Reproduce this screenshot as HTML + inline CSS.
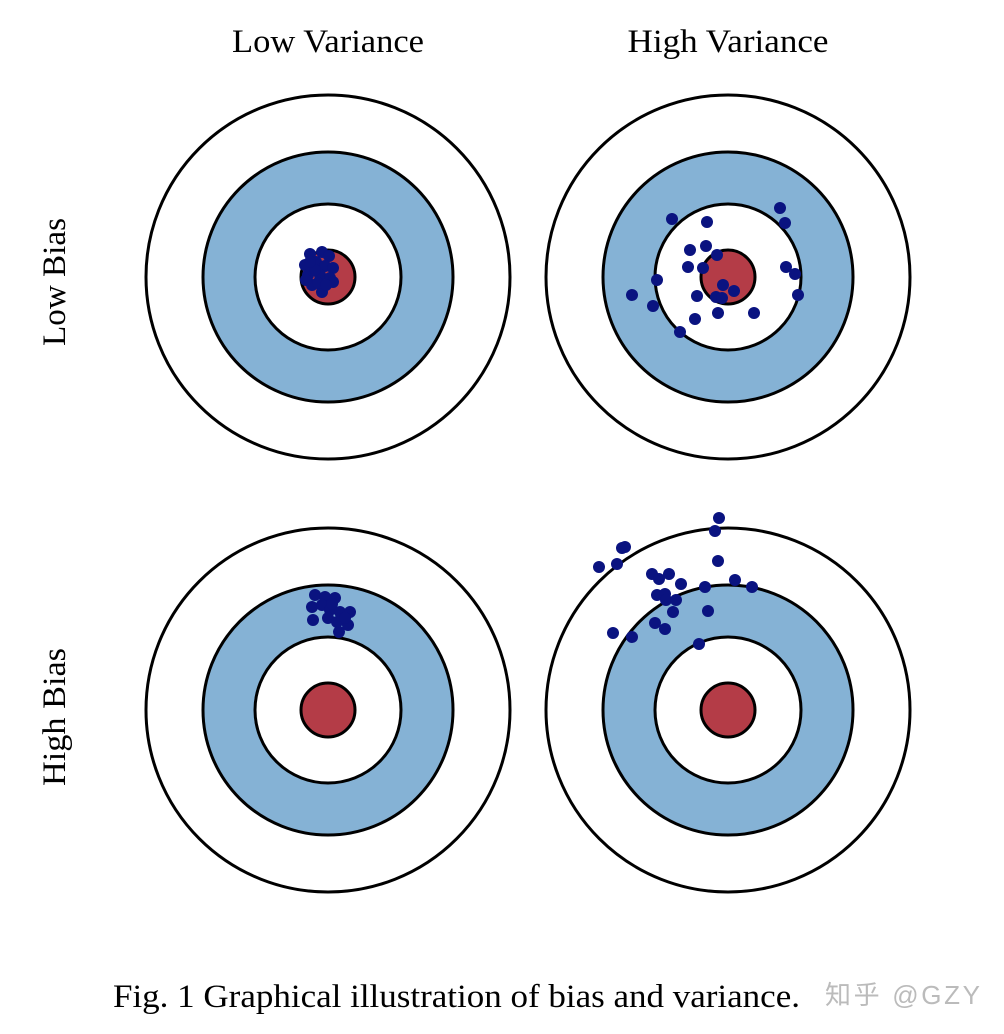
<!DOCTYPE html>
<html><head><meta charset="utf-8"><style>body{margin:0;background:#fff}svg{display:block}</style></head><body>
<svg width="1004" height="1034" viewBox="0 0 1004 1034" xmlns="http://www.w3.org/2000/svg">
<defs>
<g id="t">
<circle r="182" fill="#fff" stroke="#000" stroke-width="3"/>
<circle r="125" fill="#85b2d5" stroke="#000" stroke-width="3"/>
<circle r="73" fill="#fff" stroke="#000" stroke-width="3"/>
<circle r="27" fill="#b43c47" stroke="#000" stroke-width="3"/>
</g>
</defs>
<g font-family="Liberation Serif, serif" font-size="33" fill="#000">
<text x="328" y="52" text-anchor="middle" textLength="192" lengthAdjust="spacingAndGlyphs">Low Variance</text>
<text x="728" y="52" text-anchor="middle" textLength="201" lengthAdjust="spacingAndGlyphs">High Variance</text>
<text transform="translate(65,282) rotate(-90)" text-anchor="middle" textLength="128" lengthAdjust="spacingAndGlyphs">Low Bias</text>
<text transform="translate(65,717) rotate(-90)" text-anchor="middle" textLength="138" lengthAdjust="spacingAndGlyphs">High Bias</text>
<text x="113" y="1007" textLength="687" lengthAdjust="spacingAndGlyphs">Fig. 1 Graphical illustration of bias and variance.</text>
</g>
<text x="825" y="1004" font-family="Liberation Sans, Noto Sans CJK SC, sans-serif" font-size="26" fill="#bbb" textLength="155">知乎 @GZY</text>
<use href="#t" x="328" y="277"/>
<use href="#t" x="728" y="277"/>
<use href="#t" x="328" y="710"/>
<use href="#t" x="728" y="710"/>
<g fill="#0a1380">
<circle cx="310" cy="254" r="6"/><circle cx="322" cy="252" r="6"/><circle cx="329" cy="256" r="6"/><circle cx="305" cy="265" r="6"/><circle cx="316" cy="262" r="6"/><circle cx="325" cy="266" r="6"/><circle cx="333" cy="268" r="6"/><circle cx="308" cy="275" r="6"/><circle cx="320" cy="275" r="6"/><circle cx="330" cy="278" r="6"/><circle cx="312" cy="285" r="6"/><circle cx="322" cy="292" r="6"/><circle cx="333" cy="282" r="6"/><circle cx="315" cy="270" r="6"/><circle cx="306" cy="280" r="6"/><circle cx="318" cy="283" r="6"/><circle cx="326" cy="285" r="6"/><circle cx="310" cy="262" r="6"/>
<circle cx="672" cy="219" r="6"/><circle cx="707" cy="222" r="6"/><circle cx="780" cy="208" r="6"/><circle cx="785" cy="223" r="6"/><circle cx="690" cy="250" r="6"/><circle cx="706" cy="246" r="6"/><circle cx="717" cy="255" r="6"/><circle cx="688" cy="267" r="6"/><circle cx="703" cy="268" r="6"/><circle cx="657" cy="280" r="6"/><circle cx="632" cy="295" r="6"/><circle cx="653" cy="306" r="6"/><circle cx="697" cy="296" r="6"/><circle cx="723" cy="285" r="6"/><circle cx="734" cy="291" r="6"/><circle cx="716" cy="297" r="6"/><circle cx="722" cy="298" r="6"/><circle cx="718" cy="313" r="6"/><circle cx="754" cy="313" r="6"/><circle cx="695" cy="319" r="6"/><circle cx="786" cy="267" r="6"/><circle cx="795" cy="274" r="6"/><circle cx="798" cy="295" r="6"/><circle cx="680" cy="332" r="6"/>
<circle cx="315" cy="595" r="6"/><circle cx="325" cy="597" r="6"/><circle cx="335" cy="598" r="6"/><circle cx="312" cy="607" r="6"/><circle cx="322" cy="605" r="6"/><circle cx="330" cy="610" r="6"/><circle cx="340" cy="612" r="6"/><circle cx="350" cy="612" r="6"/><circle cx="313" cy="620" r="6"/><circle cx="328" cy="618" r="6"/><circle cx="337" cy="622" r="6"/><circle cx="348" cy="625" r="6"/><circle cx="339" cy="632" r="6"/><circle cx="345" cy="618" r="6"/><circle cx="332" cy="604" r="6"/>
<circle cx="719" cy="518" r="6"/><circle cx="715" cy="531" r="6"/><circle cx="622" cy="548" r="6"/><circle cx="625" cy="547" r="6"/><circle cx="599" cy="567" r="6"/><circle cx="617" cy="564" r="6"/><circle cx="652" cy="574" r="6"/><circle cx="659" cy="579" r="6"/><circle cx="669" cy="574" r="6"/><circle cx="681" cy="584" r="6"/><circle cx="705" cy="587" r="6"/><circle cx="735" cy="580" r="6"/><circle cx="752" cy="587" r="6"/><circle cx="657" cy="595" r="6"/><circle cx="665" cy="594" r="6"/><circle cx="666" cy="600" r="6"/><circle cx="676" cy="600" r="6"/><circle cx="673" cy="612" r="6"/><circle cx="708" cy="611" r="6"/><circle cx="655" cy="623" r="6"/><circle cx="665" cy="629" r="6"/><circle cx="613" cy="633" r="6"/><circle cx="632" cy="637" r="6"/><circle cx="699" cy="644" r="6"/><circle cx="718" cy="561" r="6"/>
</g>
</svg>
</body></html>
